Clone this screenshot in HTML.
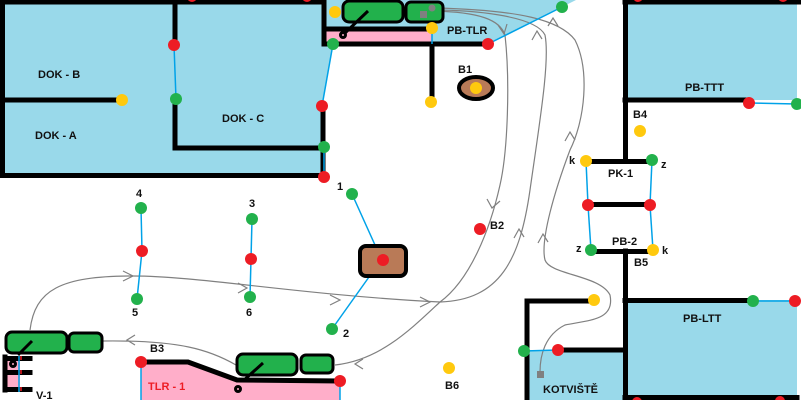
<!DOCTYPE html>
<html><head><meta charset="utf-8"><style>
html,body{margin:0;padding:0;background:#fff;}
svg{display:block;}
text{font-family:"Liberation Sans",sans-serif;font-weight:bold;font-size:11px;fill:#111;}
</style></head><body>
<svg width="801" height="400" viewBox="0 0 801 400" xmlns="http://www.w3.org/2000/svg">
<!-- blue fills -->
<g fill="#99D9EA">
<polygon points="0,0 322,0 322,46 333,46 322,106 325,106 325,177 0,177"/>
<polygon points="326,0 576,0 562,7 488,44 326,44"/>
<rect x="625" y="0" width="172" height="100"/>
<rect x="625" y="300" width="172" height="97"/>
<rect x="527" y="350" width="98" height="50"/>
</g>
<g fill="#FFAEC9">
<rect x="326" y="31" width="106" height="11"/>
<polygon points="141,362 188,362 237,380 340,381 340,400 141,400"/>
<rect x="7" y="361" width="13" height="9"/>
<rect x="7" y="375" width="13" height="12"/>
</g>
<!-- gray curves -->
<g fill="none" stroke="#808080" stroke-width="1.2">
<path d="M30,330 C35,290 60,276 133,276 C200,276 300,295 440,302 C500,300 520,260 530,190 C540,120 550,60 545,35 C535,15 470,10 433,10"/>
<path d="M433,11 C480,12 500,20 505,35 C510,80 508,150 500,185 C490,230 470,280 440,302 C410,330 380,360 335,365"/>
<path d="M435,8 C520,10 560,20 575,40 C590,70 585,120 570,150 C555,190 540,240 545,260 C550,275 600,275 610,295 C615,320 590,320 565,325 C545,335 540,355 540,372"/>
<path d="M236,365 C210,350 180,340 103,341"/>
<polyline points="123,271 133,276 123,281"/>
<polyline points="238,283 247,288 238,293"/>
<polyline points="330,295 340,300 330,305"/>
<polyline points="420,297 430,302 420,307"/>
<polyline points="135,335 127,340 135,345"/>
<polyline points="363,359 355,364 363,369"/>
<polyline points="487,199 492,208 500,201"/>
<polyline points="498,25 504,34 507,24"/>
<polyline points="514,238 519,229 524,237"/>
<polyline points="532,40 537,31 542,39"/>
<polyline points="565,141 570,132 575,140"/>
<polyline points="538,243 543,234 548,242"/>
<polyline points="548,26 553,18 558,26"/>
</g>
<rect x="537" y="371" width="7" height="7" fill="#808080"/>
<!-- black walls -->
<g stroke="#000" stroke-width="5" fill="none" stroke-linecap="square">
<line x1="2.5" y1="0" x2="2.5" y2="175"/>
<line x1="0" y1="2" x2="324" y2="2"/>
<line x1="0" y1="175.5" x2="324" y2="175.5"/>
<line x1="324" y1="0" x2="324" y2="44"/>
<line x1="324" y1="44" x2="487" y2="44"/>
<line x1="326" y1="29" x2="430" y2="29"/>
<line x1="432" y1="44" x2="432" y2="100"/>
<line x1="175" y1="0" x2="175" y2="43"/>
<line x1="175" y1="100" x2="175" y2="148"/>
<line x1="175" y1="148" x2="323" y2="148"/>
<line x1="323" y1="106" x2="323" y2="175"/>
<line x1="0" y1="100" x2="118" y2="100"/>
<line x1="625.5" y1="0" x2="625.5" y2="161"/>
<line x1="625" y1="2" x2="801" y2="2"/>
<line x1="625" y1="100" x2="748" y2="100"/>
<line x1="588" y1="161.5" x2="650" y2="161.5"/>
<line x1="590" y1="204.5" x2="648" y2="204.5"/>
<line x1="593" y1="251.5" x2="651" y2="251.5"/>
<line x1="625.5" y1="251" x2="625.5" y2="400"/>
<line x1="625" y1="300.5" x2="752" y2="300.5"/>
<line x1="625" y1="397.5" x2="797" y2="397.5"/>
<line x1="527" y1="301" x2="527" y2="400"/>
<line x1="527" y1="301" x2="592" y2="301"/>
<line x1="558" y1="350" x2="625" y2="350"/>
<polyline points="141,362 188,362 237,380 340,381" stroke-linecap="butt" stroke-linejoin="miter"/>
<line x1="5" y1="357" x2="5" y2="390"/>
<line x1="5" y1="358.5" x2="30" y2="358.5"/>
<line x1="5" y1="372.5" x2="30" y2="372.5"/>
<line x1="5" y1="389.5" x2="30" y2="389.5"/>
</g>
<!-- blue connectors -->
<g stroke="#00A2E8" stroke-width="1.5" fill="none">
<line x1="174" y1="45" x2="176" y2="99"/>
<line x1="333" y1="44" x2="322" y2="106"/>
<line x1="324" y1="147" x2="324" y2="177"/>
<line x1="432" y1="28" x2="432" y2="44"/>
<line x1="488" y1="44" x2="562" y2="7"/>
<line x1="749" y1="103" x2="797" y2="104"/>
<line x1="586" y1="161" x2="588" y2="205"/>
<line x1="652" y1="160" x2="650" y2="205"/>
<line x1="588" y1="205" x2="591" y2="250"/>
<line x1="650" y1="205" x2="653" y2="250"/>
<line x1="753" y1="301" x2="795" y2="301"/>
<line x1="524" y1="351" x2="558" y2="350"/>
<line x1="352" y1="194" x2="375" y2="245"/>
<line x1="369" y1="277" x2="332" y2="329"/>
<polyline points="141,208 142,251 137,299"/>
<polyline points="252,219 251,259 250,297"/>
<line x1="141" y1="362" x2="141" y2="400"/>
<line x1="340" y1="381" x2="340" y2="400"/>
<line x1="19" y1="356" x2="19" y2="392"/>
</g>
<g stroke="#ED1C24" stroke-width="1.5">
<line x1="21" y1="356" x2="21" y2="360"/>
<line x1="21" y1="370" x2="21" y2="374"/>
<line x1="21" y1="387" x2="21" y2="391"/>
</g>
<!-- vehicles -->
<g fill="#22B14C" stroke="#000" stroke-width="3">
<rect x="343" y="1" width="60" height="21" rx="6"/>
<rect x="406" y="2" width="37" height="20" rx="5"/>
<rect x="6" y="332" width="61" height="21" rx="6"/>
<rect x="69" y="333" width="33" height="19" rx="5"/>
<rect x="237" y="354" width="60" height="21" rx="6"/>
<rect x="301" y="355" width="32" height="18" rx="5"/>
</g>
<circle cx="432" cy="8" r="3.5" fill="#808080"/>
<rect x="420" y="11" width="7" height="7" fill="#808080"/>
<g stroke="#000" stroke-width="3" fill="none">
<line x1="368" y1="11" x2="345" y2="33"/>
<circle cx="343" cy="35" r="2.5"/>
<line x1="32" y1="341" x2="18" y2="355"/>
<circle cx="13" cy="364" r="2.5"/>
<line x1="263" y1="363" x2="243" y2="381"/>
<circle cx="238" cy="389" r="2.5"/>
</g>
<!-- brown -->
<rect x="360" y="246" width="46" height="30" rx="6" fill="#B97A57" stroke="#000" stroke-width="4"/>
<ellipse cx="476" cy="88" rx="17" ry="11" fill="#B97A57" stroke="#000" stroke-width="4"/>
<!-- dots -->
<g fill="#ED1C24">
<circle cx="174" cy="45" r="6"/><circle cx="322" cy="106" r="6"/><circle cx="324" cy="177" r="6"/>
<circle cx="488" cy="44" r="6"/><circle cx="749" cy="103" r="6"/><circle cx="588" cy="205" r="6"/>
<circle cx="650" cy="205" r="6"/><circle cx="795" cy="301" r="6"/><circle cx="558" cy="350" r="6"/>
<circle cx="383" cy="260" r="6"/><circle cx="480" cy="229" r="6"/><circle cx="142" cy="251" r="6"/>
<circle cx="251" cy="259" r="6"/><circle cx="141" cy="362" r="6"/><circle cx="340" cy="381" r="6"/>
<circle cx="192" cy="-3" r="5"/><circle cx="307" cy="-3" r="5"/><circle cx="638" cy="-3" r="5"/><circle cx="783" cy="-3" r="5"/>
<circle cx="637" cy="402" r="5"/><circle cx="780" cy="401" r="5"/>
</g>
<g fill="#22B14C">
<circle cx="176" cy="99" r="6"/><circle cx="333" cy="44" r="6"/><circle cx="324" cy="147" r="6"/>
<circle cx="562" cy="7" r="6"/><circle cx="797" cy="104" r="6"/><circle cx="652" cy="160" r="6"/>
<circle cx="591" cy="250" r="6"/><circle cx="753" cy="301" r="6"/><circle cx="524" cy="351" r="6"/>
<circle cx="352" cy="194" r="6"/><circle cx="332" cy="329" r="6"/><circle cx="141" cy="208" r="6"/>
<circle cx="137" cy="299" r="6"/><circle cx="252" cy="219" r="6"/><circle cx="250" cy="297" r="6"/>
</g>
<g fill="#FFC90E">
<circle cx="122" cy="100" r="6"/><circle cx="335" cy="12" r="6"/><circle cx="432" cy="28" r="6"/>
<circle cx="431" cy="102" r="6"/><circle cx="476" cy="88" r="6"/><circle cx="640" cy="131" r="6"/>
<circle cx="586" cy="161" r="6"/><circle cx="653" cy="250" r="6"/><circle cx="594" cy="300" r="6"/>
<circle cx="449" cy="368" r="6"/>
</g>
<!-- labels -->
<text x="38" y="78">DOK - B</text>
<text x="35" y="139">DOK - A</text>
<text x="222" y="122">DOK - C</text>
<text x="447" y="34">PB-TLR</text>
<text x="458" y="73">B1</text>
<text x="685" y="91">PB-TTT</text>
<text x="633" y="118">B4</text>
<text x="569" y="164">k</text>
<text x="661" y="168">z</text>
<text x="608" y="177">PK-1</text>
<text x="612" y="245">PB-2</text>
<text x="576" y="252">z</text>
<text x="662" y="254">k</text>
<text x="634" y="266">B5</text>
<text x="683" y="322">PB-LTT</text>
<text x="543" y="393">KOTVIŠTĚ</text>
<text x="337" y="190">1</text>
<text x="343" y="337">2</text>
<text x="490" y="229">B2</text>
<text x="445" y="389">B6</text>
<text x="136" y="197">4</text>
<text x="132" y="316">5</text>
<text x="249" y="207">3</text>
<text x="246" y="316">6</text>
<text x="150" y="352">B3</text>
<text x="148" y="390" style="fill:#ED1C24">TLR - 1</text>
<text x="36" y="399">V-1</text>
</svg>
</body></html>
